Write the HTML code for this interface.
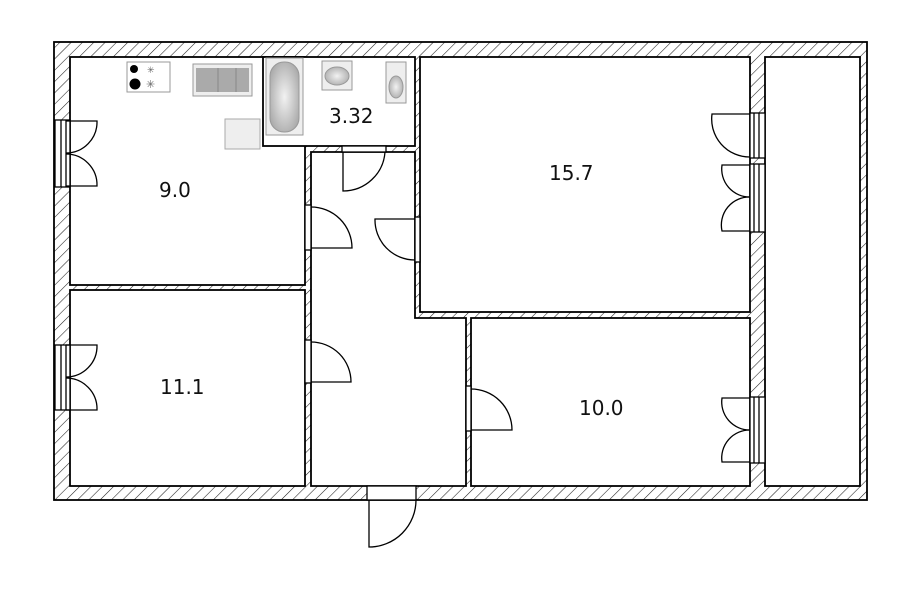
<!DOCTYPE html>
<html><head><meta charset="utf-8"><style>
html,body{margin:0;padding:0;background:#fff;width:907px;height:593px;overflow:hidden}
svg{display:block}
text{font-family:"DejaVu Sans","Liberation Sans",sans-serif;font-size:20px;fill:#111}
</style></head><body>
<svg width="907" height="593" viewBox="0 0 907 593" xmlns="http://www.w3.org/2000/svg">
<defs>
<pattern id="h" patternUnits="userSpaceOnUse" width="8" height="8" patternTransform="rotate(45)">
<rect width="8" height="8" fill="#fff"/><line x1="0" y1="0" x2="0" y2="8" stroke="#222" stroke-width="1.1"/>
</pattern>
<radialGradient id="g" cx="50%" cy="50%" r="60%"><stop offset="0" stop-color="#f2f2f2"/><stop offset="1" stop-color="#a8a8a8"/></radialGradient>
</defs>
<g stroke="#000" stroke-width="1.8" fill="#fff">
<rect x="54" y="42" width="813" height="458" fill="url(#h)"/>
<rect x="70" y="57" width="235" height="228"/>
<rect x="70" y="290" width="235" height="196"/>
<rect x="263" y="57" width="152" height="89"/>
<polygon points="311,152 415,152 415,318 466,318 466,486 311,486"/>
<rect x="420" y="57" width="330" height="255"/>
<rect x="471" y="318" width="279" height="168"/>
<rect x="765" y="57" width="95" height="429"/>
</g>
<rect x="127" y="62" width="43" height="30" fill="#fff" stroke="#999"/>
<circle cx="134" cy="69" r="4" fill="#000"/><circle cx="135" cy="84" r="5.5" fill="#000"/>
<text x="147" y="73" style="font-size:9px;fill:#666">✳</text><text x="146" y="88" style="font-size:11px;fill:#666">✳</text>
<rect x="193" y="64" width="59" height="32" fill="#eee" stroke="#999"/>
<rect x="196" y="68" width="53" height="24" fill="#aaa"/>
<line x1="218" y1="68" x2="218" y2="92" stroke="#888"/><line x1="236" y1="68" x2="236" y2="92" stroke="#888"/>
<rect x="225" y="119" width="35" height="30" fill="#eee" stroke="#aaa"/>
<rect x="266" y="58" width="37" height="77" fill="#eee" stroke="#999"/>
<rect x="270" y="62" width="29" height="70" rx="14" fill="url(#g)" stroke="#999"/>
<rect x="322" y="61" width="30" height="29" fill="#eee" stroke="#999"/>
<ellipse cx="337" cy="76" rx="12" ry="9" fill="url(#g)" stroke="#999"/>
<rect x="386" y="62" width="20" height="41" fill="#eee" stroke="#999"/>
<ellipse cx="396" cy="87" rx="7" ry="11" fill="url(#g)" stroke="#999"/>
<g stroke="#000" stroke-width="1.3" fill="#fff">
<rect x="55" y="120" width="15" height="67"/><line x1="61" y1="120" x2="61" y2="187"/><line x1="66" y1="120" x2="66" y2="187"/>
<rect x="55" y="345" width="15" height="65"/><line x1="61" y1="345" x2="61" y2="410"/><line x1="66" y1="345" x2="66" y2="410"/>
<rect x="750" y="113" width="15" height="45"/><line x1="754" y1="113" x2="754" y2="158"/><line x1="759" y1="113" x2="759" y2="158"/>
<rect x="750" y="164" width="15" height="68"/><line x1="754" y1="164" x2="754" y2="232"/><line x1="759" y1="164" x2="759" y2="232"/>
<rect x="750" y="397" width="15" height="66"/><line x1="754" y1="397" x2="754" y2="463"/><line x1="759" y1="397" x2="759" y2="463"/>
<rect x="305" y="205" width="6" height="45"/><rect x="305" y="340" width="6" height="43"/>
<rect x="342" y="146" width="44" height="6"/><rect x="415" y="217" width="5" height="45"/>
<rect x="466" y="386" width="5" height="45"/><rect x="367" y="486" width="49" height="14"/>
</g>
<g stroke="#000" stroke-width="1.3" fill="none">
<path d="M66 121 H97 A31 31 0 0 1 66 153"/><path d="M66 186 H97 A31 31 0 0 0 66 154"/>
<path d="M66 345 H97 A31 31 0 0 1 66 377"/><path d="M66 410 H97 A31 31 0 0 0 66 378"/>
<path d="M750 114 H712 A38 38 0 0 0 750 157"/>
<path d="M750 165 H722 A28 28 0 0 0 750 197"/><path d="M750 231 H722 A28 28 0 0 1 750 197"/>
<path d="M750 398 H722 A28 28 0 0 0 750 430"/><path d="M750 462 H722 A28 28 0 0 1 750 430"/>
<path d="M311 248 H352 A41 41 0 0 0 311 207"/>
<path d="M311 382 H351 A40 40 0 0 0 311 342"/>
<path d="M343 152 V191 A42 42 0 0 0 385 152"/>
<path d="M415 219 H375 A40 40 0 0 0 415 260"/>
<path d="M471 430 H512 A41 41 0 0 0 471 389"/>
<path d="M369 500 V547 A47 47 0 0 0 416 500"/>
</g>
<text x="159" y="197">9.0</text>
<text x="329" y="123">3.32</text>
<text x="549" y="180">15.7</text>
<text x="160" y="394">11.1</text>
<text x="579" y="415">10.0</text>
</svg>
</body></html>
